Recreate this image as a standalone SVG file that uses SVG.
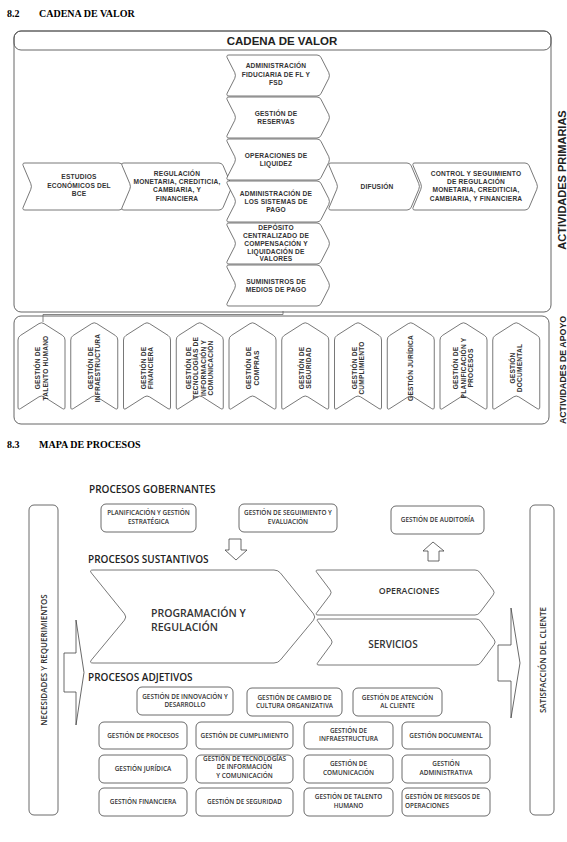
<svg xmlns="http://www.w3.org/2000/svg" width="567" height="842" viewBox="0 0 567 842">
<style>
 .frame{fill:none;stroke:#555;stroke-width:0.9}
 .ch{fill:#fff;stroke:#555;stroke-width:0.8}
 .t{font-family:"Liberation Sans",Arial,sans-serif;font-weight:bold;font-size:6.6px;fill:#333;text-anchor:middle;letter-spacing:0.2px}
 .h{font-family:"Liberation Serif","Times New Roman",serif;font-weight:bold;font-size:10px;fill:#000}
 .title{font-family:"Liberation Sans",Arial,sans-serif;font-weight:bold;font-size:11.5px;fill:#222;text-anchor:middle}
 .vl{font-family:"Liberation Sans",Arial,sans-serif;font-weight:bold;fill:#222;text-anchor:middle}
 .box{fill:#fff;stroke:#444;stroke-width:0.8}
 .m{font-family:"Open Sans","Noto Sans",sans-serif;font-weight:600;font-size:6.4px;fill:#333;text-anchor:middle}
 .ms{text-anchor:start}
 .sec{font-family:"Open Sans","Noto Sans",sans-serif;font-weight:600;font-size:10px;fill:#222}
 .big{font-family:"Open Sans","Noto Sans",sans-serif;font-weight:600;fill:#333}
 .arrow{fill:#fff;stroke:#444;stroke-width:0.8}
 .line{fill:none;stroke:#666;stroke-width:0.8}
</style>
<defs>
 <path id="vch" d="M0,18 q0,-3 2.5,-4.6 l18.5,-11.8 q2.5,-1.6 5,0 l18.5,11.8 q2.5,1.6 2.5,4.6 v67 q0,3 -2.5,1.6 l-18.5,-11.8 q-2.5,-1.6 -5,0 l-18.5,11.8 q-2.5,1.6 -2.5,-1.6 z"/>
 <path id="hch" d="M3,0 h88 q3,0 4.2,2.8 l7.6,14.9 q1.2,2.8 0,5.6 l-7.6,14.9 q-1.2,2.8 -4.2,2.8 h-88 q-3,0 -1.8,-2.8 l7.6,-14.9 q1.2,-2.8 0,-5.6 l-7.6,-14.9 q-1.2,-2.8 1.8,-2.8 z"/>
</defs>
<rect x="0" y="0" width="567" height="842" fill="#fff"/>

<!-- Section 8.2 -->
<text class="h" x="7" y="17">8.2</text>
<text class="h" x="39" y="17">CADENA DE VALOR</text>

<g id="cadena-frame">
 <rect class="frame" x="14" y="31" width="537" height="281" rx="7"/>
 <rect class="frame" x="14" y="31" width="537" height="19" rx="7"/>
 <text class="title" x="282" y="45">CADENA DE VALOR</text>
 <text class="vl" font-size="11" transform="translate(565.5,180) rotate(-90)">ACTIVIDADES PRIMARIAS</text>
</g>

<g id="estudios">
 <path class="ch" d="M25,163 h94 q3,0 4.2,2.8 l7.6,17.9 q1.2,2.8 0,5.6 l-7.6,17.9 q-1.2,2.8 -4.2,2.8 h-94 q-3,0 -1.8,-2.8 l7.6,-17.9 q1.2,-2.8 0,-5.6 l-7.6,-17.9 q-1.2,-2.8 1.8,-2.8 z"/>
 <text class="t"><tspan x="79" y="179.3">ESTUDIOS</tspan><tspan x="79" y="187.8">ECONÓMICOS DEL</tspan><tspan x="79" y="196.3">BCE</tspan></text>
</g>
<g id="regulacion">
 <path class="ch" d="M124,163 h95 q3,0 4.2,2.8 l7.6,17.9 q1.2,2.8 0,5.6 l-7.6,17.9 q-1.2,2.8 -4.2,2.8 h-95 q-3,0 -1.8,-2.8 l7.6,-17.9 q1.2,-2.8 0,-5.6 l-7.6,-17.9 q-1.2,-2.8 1.8,-2.8 z"/>
 <text class="t"><tspan x="177" y="175.8">REGULACIÓN</tspan><tspan x="177" y="184.1">MONETARIA, CREDITICIA,</tspan><tspan x="177" y="192.4">CAMBIARIA, Y</tspan><tspan x="177" y="200.7">FINANCIERA</tspan></text>
</g>
<g id="fiduciaria">
 <use href="#hch" class="ch" x="226" y="55"/>
 <text class="t"><tspan x="276" y="68.3">ADMINISTRACIÓN</tspan><tspan x="276" y="76.8">FIDUCIARIA DE FL Y</tspan><tspan x="276" y="85.3">FSD</tspan></text>
</g>
<g id="reservas">
 <use href="#hch" class="ch" x="226" y="97"/>
 <text class="t"><tspan x="276" y="115.8">GESTIÓN DE</tspan><tspan x="276" y="123.8">RESERVAS</tspan></text>
</g>
<g id="liquidez">
 <use href="#hch" class="ch" x="226" y="139"/>
 <text class="t"><tspan x="276" y="157.8">OPERACIONES DE</tspan><tspan x="276" y="165.8">LIQUIDEZ</tspan></text>
</g>
<g id="sistemas-pago">
 <use href="#hch" class="ch" x="226" y="181"/>
 <text class="t"><tspan x="276" y="195.8">ADMINISTRACIÓN DE</tspan><tspan x="276" y="203.8">LOS SISTEMAS DE</tspan><tspan x="276" y="211.8">PAGO</tspan></text>
</g>
<g id="deposito">
 <use href="#hch" class="ch" x="226" y="223"/>
 <text class="t"><tspan x="276" y="230.2">DEPÓSITO</tspan><tspan x="276" y="238">CENTRALIZADO DE</tspan><tspan x="276" y="245.8">COMPENSACIÓN Y</tspan><tspan x="276" y="253.6">LIQUIDACIÓN DE</tspan><tspan x="276" y="261.4">VALORES</tspan></text>
</g>
<g id="suministros">
 <use href="#hch" class="ch" x="226" y="265"/>
 <text class="t"><tspan x="276" y="283.8">SUMINISTROS DE</tspan><tspan x="276" y="291.8">MEDIOS DE PAGO</tspan></text>
</g>
<g id="difusion">
 <path class="ch" d="M331,163 h76 q3,0 4.2,2.8 l7.6,17.9 q1.2,2.8 0,5.6 l-7.6,17.9 q-1.2,2.8 -4.2,2.8 h-76 q-3,0 -1.8,-2.8 l7.6,-17.9 q1.2,-2.8 0,-5.6 l-7.6,-17.9 q-1.2,-2.8 1.8,-2.8 z"/>
 <text class="t" x="377" y="188.5">DIFUSIÓN</text>
</g>
<g id="control">
 <path class="ch" d="M415,163 h110 q3,0 4.2,2.8 l7.6,17.9 q1.2,2.8 0,5.6 l-7.6,17.9 q-1.2,2.8 -4.2,2.8 h-110 q-3,0 -1.8,-2.8 l7.6,-17.9 q1.2,-2.8 0,-5.6 l-7.6,-17.9 q-1.2,-2.8 1.8,-2.8 z"/>
 <text class="t"><tspan x="476" y="175.8">CONTROL Y SEGUIMIENTO</tspan><tspan x="476" y="184.1">DE REGULACIÓN</tspan><tspan x="476" y="192.4">MONETARIA, CREDITICIA,</tspan><tspan x="476" y="200.7">CAMBIARIA, Y FINANCIERA</tspan></text>
</g>

<g id="apoyo-frame">
 <rect class="frame" x="14" y="316" width="535" height="108" rx="7"/>
 <text class="vl" font-size="8.8" transform="translate(565.5,370) rotate(-90)">ACTIVIDADES DE APOYO</text>
</g>
<g id="apoyo-1"><use href="#vch" class="ch" x="18" y="322"/>
 <text class="t" transform="translate(41.5,368) rotate(-90)"><tspan x="0" y="-1.5">GESTIÓN DE</tspan><tspan x="0" y="6">TALENTO HUMANO</tspan></text></g>
<g id="apoyo-2"><use href="#vch" class="ch" x="70.75" y="322"/>
 <text class="t" transform="translate(94.25,368) rotate(-90)"><tspan x="0" y="-1.5">GESTIÓN DE</tspan><tspan x="0" y="6">INFRAESTRUCTURA</tspan></text></g>
<g id="apoyo-3"><use href="#vch" class="ch" x="123.5" y="322"/>
 <text class="t" transform="translate(147,368) rotate(-90)"><tspan x="0" y="-1.5">GESTIÓN DE</tspan><tspan x="0" y="6">FINANCIERA</tspan></text></g>
<g id="apoyo-4"><use href="#vch" class="ch" x="176.25" y="322"/>
 <text class="t" transform="translate(199.75,368) rotate(-90)"><tspan x="0" y="-9">GESTIÓN DE</tspan><tspan x="0" y="-1.5">TECNOLOGÍAS DE</tspan><tspan x="0" y="6">INFORMACIÓN Y</tspan><tspan x="0" y="13.5">COMUNICACIÓN</tspan></text></g>
<g id="apoyo-5"><use href="#vch" class="ch" x="229" y="322"/>
 <text class="t" transform="translate(252.5,368) rotate(-90)"><tspan x="0" y="-1.5">GESTIÓN DE</tspan><tspan x="0" y="6">COMPRAS</tspan></text></g>
<g id="apoyo-6"><use href="#vch" class="ch" x="281.75" y="322"/>
 <text class="t" transform="translate(305.25,368) rotate(-90)"><tspan x="0" y="-1.5">GESTIÓN DE</tspan><tspan x="0" y="6">SEGURIDAD</tspan></text></g>
<g id="apoyo-7"><use href="#vch" class="ch" x="334.5" y="322"/>
 <text class="t" transform="translate(358,368) rotate(-90)"><tspan x="0" y="-1.5">GESTIÓN DE</tspan><tspan x="0" y="6">CUMPLIMIENTO</tspan></text></g>
<g id="apoyo-8"><use href="#vch" class="ch" x="387.25" y="322"/>
 <text class="t" transform="translate(410.75,368) rotate(-90)"><tspan x="0" y="2.3">GESTIÓN JURÍDICA</tspan></text></g>
<g id="apoyo-9"><use href="#vch" class="ch" x="440" y="322"/>
 <text class="t" transform="translate(463.5,368) rotate(-90)"><tspan x="0" y="-5.2">GESTIÓN DE</tspan><tspan x="0" y="2.3">PLANIFICACIÓN Y</tspan><tspan x="0" y="9.8">PROCESOS</tspan></text></g>
<g id="apoyo-10"><use href="#vch" class="ch" x="492.75" y="322"/>
 <text class="t" transform="translate(516.25,368) rotate(-90)"><tspan x="0" y="-1.5">GESTIÓN</tspan><tspan x="0" y="6">DOCUMENTAL</tspan></text></g>

<!-- Section 8.3 -->
<text class="h" x="7" y="448">8.3</text>
<text class="h" x="39" y="448">MAPA DE PROCESOS</text>

<text class="sec" x="89" y="493">PROCESOS GOBERNANTES</text>
<text class="sec" x="88" y="563">PROCESOS SUSTANTIVOS</text>
<text class="sec" x="88" y="681">PROCESOS ADJETIVOS</text>

<g id="necesidades">
 <rect class="box" x="29" y="505" width="29" height="310" rx="5"/>
 <text class="big" font-size="8" text-anchor="middle" transform="translate(46.5,660) rotate(-90)">NECESIDADES Y REQUERIMIENTOS</text>
</g>
<g id="satisfaccion">
 <rect class="box" x="530" y="505" width="24" height="310" rx="5"/>
 <text class="big" font-size="8" text-anchor="middle" transform="translate(545.5,660) rotate(-90)">SATISFACCIÓN DEL CLIENTE</text>
</g>

<g id="planificacion">
 <rect class="box" x="101" y="504" width="95" height="28" rx="5"/>
 <text class="m"><tspan x="148.5" y="515">PLANIFICACIÓN Y GESTIÓN</tspan><tspan x="148.5" y="523.7">ESTRATÉGICA</tspan></text>
</g>
<g id="seguimiento">
 <rect class="box" x="239" y="504" width="98" height="28" rx="5"/>
 <text class="m"><tspan x="288" y="515">GESTIÓN DE SEGUIMIENTO Y</tspan><tspan x="288" y="523.7">EVALUACIÓN</tspan></text>
</g>
<g id="auditoria">
 <rect class="box" x="391" y="506" width="93" height="28" rx="5"/>
 <text class="m" x="437.5" y="522.2">GESTIÓN DE AUDITORÍA</text>
</g>

<g id="programacion">
 <path class="ch" d="M93,570 H274 Q278,570 280.5,573.1 L313.5,613.9 Q316,617 313.5,620.1 L280.5,659.9 Q278,663 274,663 H93 Q89,663 91.5,659.9 L124.5,620.1 Q127,617 124.5,613.9 L91.5,573.1 Q89,570 93,570 Z"/>
 <text class="big" font-size="10.5"><tspan x="151" y="617">PROGRAMACIÓN Y</tspan><tspan x="151" y="630.5">REGULACIÓN</tspan></text>
</g>
<g id="operaciones">
 <path class="ch" d="M318,570 H475 Q478,570 479.8,572.4 L493.2,590.1 Q495,592.5 493.2,594.9 L479.8,612.6 Q478,615 475,615 H318 Q315,615 316.8,612.6 L330.2,594.9 Q332,592.5 330.2,590.1 L316.8,572.4 Q315,570 318,570 Z"/>
 <text class="big" font-size="8.8" text-anchor="middle" x="409" y="593.5">OPERACIONES</text>
</g>
<g id="servicios">
 <path class="ch" d="M319,619 H476 Q479,619 480.8,621.4 L494.2,639.6 Q496,642 494.2,644.4 L480.8,662.6 Q479,665 476,665 H319 Q316,665 317.8,662.6 L331.2,644.4 Q333,642 331.2,639.6 L317.8,621.4 Q316,619 319,619 Z"/>
 <text class="big" font-size="10" text-anchor="middle" x="393" y="647.5">SERVICIOS</text>
</g>

<g id="innovacion">
 <rect class="box" x="137" y="687" width="96" height="28" rx="5"/>
 <text class="m"><tspan x="185" y="698.5">GESTIÓN DE INNOVACIÓN Y</tspan><tspan x="185" y="707.2">DESARROLLO</tspan></text>
</g>
<g id="cambio">
 <rect class="box" x="247" y="688" width="95" height="28" rx="5"/>
 <text class="m"><tspan x="294.5" y="699.5">GESTIÓN DE CAMBIO DE</tspan><tspan x="294.5" y="708.2">CULTURA ORGANIZATIVA</tspan></text>
</g>
<g id="atencion">
 <rect class="box" x="353" y="688" width="89" height="28" rx="5"/>
 <text class="m"><tspan x="397.5" y="699.5">GESTIÓN DE ATENCIÓN</tspan><tspan x="397.5" y="708.2">AL CLIENTE</tspan></text>
</g>

<g id="procesos">
 <rect class="box" x="99" y="722" width="88" height="27" rx="5"/>
 <text class="m" x="143" y="737.7">GESTIÓN DE PROCESOS</text>
</g>
<g id="cumplimiento">
 <rect class="box" x="196" y="722" width="97" height="27" rx="5"/>
 <text class="m" x="244.5" y="737.7">GESTIÓN DE CUMPLIMIENTO</text>
</g>
<g id="infraestructura">
 <rect class="box" x="304" y="722" width="89" height="27" rx="5"/>
 <text class="m"><tspan x="348.5" y="732.5">GESTIÓN DE</tspan><tspan x="348.5" y="741.2">INFRAESTRUCTURA</tspan></text>
</g>
<g id="documental">
 <rect class="box" x="402" y="722" width="88" height="27" rx="5"/>
 <text class="m" x="446" y="737.7">GESTIÓN DOCUMENTAL</text>
</g>

<g id="juridica">
 <rect class="box" x="99" y="755" width="88" height="28" rx="5"/>
 <text class="m" x="143" y="771.2">GESTIÓN JURÍDICA</text>
</g>
<g id="tecnologias">
 <rect class="box" x="196" y="755" width="97" height="28" rx="5"/>
 <text class="m"><tspan x="244.5" y="760.7">GESTIÓN DE TECNOLOGÍAS</tspan><tspan x="244.5" y="769.2">DE INFORMACIÓN</tspan><tspan x="244.5" y="777.7">Y COMUNICACIÓN</tspan></text>
</g>
<g id="comunicacion">
 <rect class="box" x="304" y="755" width="89" height="28" rx="5"/>
 <text class="m"><tspan x="348.5" y="766">GESTIÓN DE</tspan><tspan x="348.5" y="774.7">COMUNICACIÓN</tspan></text>
</g>
<g id="administrativa">
 <rect class="box" x="402" y="755" width="88" height="28" rx="5"/>
 <text class="m"><tspan x="446" y="766">GESTIÓN</tspan><tspan x="446" y="774.7">ADMINISTRATIVA</tspan></text>
</g>

<g id="financiera">
 <rect class="box" x="99" y="788" width="88" height="28" rx="5"/>
 <text class="m" x="143" y="804.2">GESTIÓN FINANCIERA</text>
</g>
<g id="seguridad">
 <rect class="box" x="196" y="788" width="97" height="28" rx="5"/>
 <text class="m" x="244.5" y="804.2">GESTIÓN DE SEGURIDAD</text>
</g>
<g id="talento">
 <rect class="box" x="304" y="788" width="89" height="28" rx="5"/>
 <text class="m"><tspan x="348.5" y="799">GESTIÓN DE TALENTO</tspan><tspan x="348.5" y="807.7">HUMANO</tspan></text>
</g>
<g id="riesgos">
 <rect class="box" x="402" y="788" width="88" height="28" rx="5"/>
 <text class="m ms"><tspan x="405" y="799">GESTIÓN DE RIESGOS DE</tspan><tspan x="405" y="807.7">OPERACIONES</tspan></text>
</g>

<g id="connectors">
 <path class="line" d="M43,322 V314.5 H283 V311"/>
 <path class="arrow" d="M229,539 H241 V550 H247 L236,560 L225,550 H229 Z"/>
 <path class="arrow" d="M433,542 L444,551 H439 V561 H428 V551 H423 Z"/>
 <path class="arrow" d="M64,653 H76 V620 L84,672.5 L76,725 V692 H64 Z"/>
 <path class="arrow" d="M498,645 H511 V608 L520,663 L511,718 V681 H498 Z"/>
</g>
</svg>
